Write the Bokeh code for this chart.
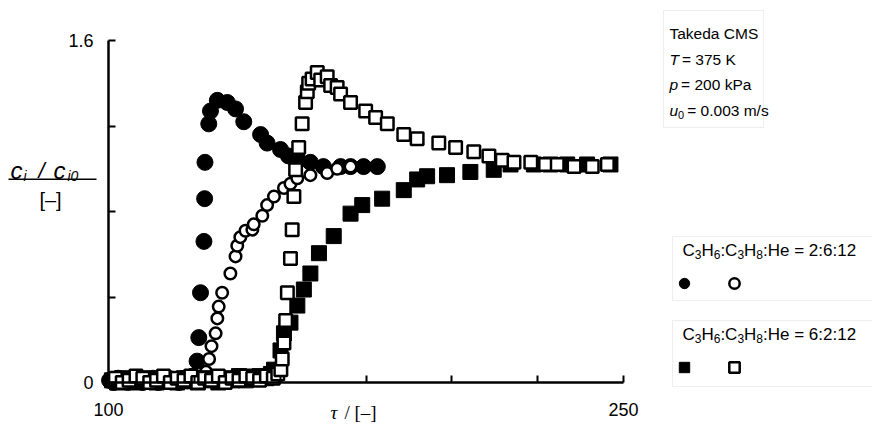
from bokeh.plotting import figure
from bokeh.models import (Range1d, FixedTicker, Label, BoxAnnotation, Legend,
                          LegendItem)
from bokeh.embed import file_html
from bokeh.resources import INLINE

# ---------------- data ----------------
# 2:6:12 feed  -> C3H6 (filled circles), C3H8 (open circles)
c3h6_a_tau = [100.3, 101.5, 102.8, 104, 105.5, 107, 108.5, 110, 111.5, 113,
              114.5, 116, 117.5, 119, 120.5, 122, 123.3, 124.5,
              125.8, 126.3, 126.8, 127.8, 128.0, 128.1, 129.2, 129.7, 131.7,
              134.6, 137.0, 139.4, 144.3, 146.2, 150.1, 152.4, 155.3, 158.8,
              162.6, 167.6, 170.5, 174.3, 178.3]
c3h6_a_c = [0.01, 0.0, 0.02, 0.01, 0.0, 0.01, 0.02, 0.0, 0.01, 0.02,
            0.0, 0.01, 0.02, 0.01, 0.0, 0.02, 0.01, 0.03,
            0.10, 0.21, 0.42, 0.66, 0.86, 1.03, 1.21, 1.27, 1.32,
            1.31, 1.28, 1.22, 1.16, 1.12, 1.09, 1.06, 1.04, 1.03,
            1.01, 1.01, 1.01, 1.01, 1.01]
c3h8_a_tau = [100.8, 102, 103.5, 105, 106.5, 108, 109.5, 111, 112.5, 114,
              115.5, 117, 118.5, 120, 121.5, 123, 124.5, 126, 127.3,
              128.4, 129.3, 130.0, 131.2, 131.7, 132.1, 133.1, 135.5, 137.0,
              137.5, 138.4, 139.9, 141.9, 142.3, 144.8, 146.2, 148.2, 151.1,
              153.0, 155.0, 158.8, 163.7, 166.6, 170.5]
c3h8_a_c = [0.01, 0.0, 0.01, 0.02, 0.01, 0.0, 0.01, 0.02, 0.0, 0.01,
            0.02, 0.01, 0.0, 0.02, 0.01, 0.0, 0.02, 0.01, 0.02,
            0.05, 0.11, 0.17, 0.23, 0.30, 0.355, 0.42, 0.51, 0.59,
            0.64, 0.68, 0.71, 0.715, 0.74, 0.78, 0.83, 0.87, 0.91,
            0.93, 0.955, 0.97, 0.98, 1.0, 1.01]

# 6:2:12 feed  -> C3H6 (filled squares), C3H8 (open squares)
c3h6_b_tau = [101, 102.5, 104, 106, 108, 110, 112, 114, 116, 118, 120, 122,
              124, 126, 128, 130, 132, 134, 136, 138, 140, 142, 144, 146,
              147.3, 148.2, 150.1, 151.1, 153.0, 155.0, 156.9, 158.8,
              161.3, 165.6, 170.5, 173.9, 179.7, 186.0, 189.9, 192.8, 198.6,
              205.4, 212.2, 217.1, 223.9, 228.7, 233.6, 239.4, 246.2]
c3h6_b_c = [0.01, 0.0, 0.02, 0.01, 0.0, 0.02, 0.01, 0.0, 0.02, 0.01, 0.0, 0.02,
            0.01, 0.0, 0.02, 0.01, 0.0, 0.02, 0.01, 0.03, 0.01, 0.02, 0.03, 0.02,
            0.04, 0.06, 0.15, 0.23, 0.28, 0.36, 0.435, 0.51,
            0.605, 0.685, 0.79, 0.83, 0.86, 0.90, 0.95, 0.965, 0.97,
            0.985, 0.995, 1.02, 1.02, 1.02, 1.02, 1.02, 1.02]
c3h8_b_tau = [102, 104, 106, 108, 110, 112, 114, 116, 118, 120, 122, 124,
              126, 128, 130, 132, 134, 136, 138, 140, 142, 144, 146, 148,
              149.3, 150.2, 150.6, 151.1, 151.6, 152.1, 153.0,
              153.5, 154.0, 154.5, 155.4, 156.4, 157.4, 157.9, 158.3, 159.3,
              160.8, 161.8, 163.7, 164.7, 166.6, 167.6, 170.5, 174.9, 177.8,
              181.2, 186.0, 189.9, 196.2, 201.1, 206.4, 210.8, 214.7, 218.1,
              223.0, 227.3, 230.7, 235.6, 240.9, 245.3]
c3h8_b_c = [0.02, 0.0, 0.01, 0.03, 0.02, 0.0, 0.01, 0.03, 0.0, 0.02, 0.01, 0.03,
            0.0, 0.02, 0.01, 0.03, 0.0, 0.02, 0.01, 0.03, 0.02, 0.01, 0.03, 0.02,
            0.04, 0.06, 0.11, 0.185, 0.29, 0.42, 0.58,
            0.715, 0.87, 0.995, 1.10, 1.21, 1.31, 1.36, 1.40, 1.42,
            1.45, 1.415, 1.43, 1.39, 1.38, 1.35, 1.31, 1.27, 1.24,
            1.21, 1.16, 1.14, 1.12, 1.10, 1.08, 1.06, 1.04, 1.03,
            1.03, 1.02, 1.02, 1.01, 1.01, 1.02]

x_major = [100, 250]
x_minor = [125, 150, 175, 200, 225]
y_major = [0, 1.6]
y_minor = [0.4, 0.8, 1.2]

# ---------------- layout ----------------
W, H = 872, 432
AX_X0, AX_X1 = 108, 623         # pixel of tau=100 and tau=250
AX_Y0, AX_Y1 = 382, 40          # pixel (from top) of c=0 and c=1.6
sx = (AX_X1 - AX_X0) / (x_major[1] - x_major[0])
sy = (AX_Y0 - AX_Y1) / (y_major[1] - y_major[0])

def px2x(px):
    return x_major[0] + (px - AX_X0) / sx

def px2y(py):
    return y_major[0] + (AX_Y0 - py) / sy

p = figure(width=W, height=H, output_backend="svg", toolbar_location=None,
           x_range=Range1d(px2x(0), px2x(W)),
           y_range=Range1d(px2y(H), px2y(0)),
           min_border=0)
p.outline_line_color = None
p.grid.visible = False
p.background_fill_color = "white"
p.border_fill_color = "white"

FONT = "Liberation Sans"
SERIF = "Liberation Serif"
xax, yax = p.xaxis[0], p.yaxis[0]
for ax in (xax, yax):
    ax.axis_line_width = 2.5
    ax.axis_line_color = "black"
    ax.major_tick_in = 7
    ax.major_tick_out = 0
    ax.minor_tick_in = 7
    ax.minor_tick_out = 0
    ax.major_tick_line_width = 2
    ax.minor_tick_line_width = 2
    ax.major_label_text_font = FONT
    ax.major_label_text_font_size = "18px"
    ax.major_label_text_color = "black"

xax.fixed_location = 0
xax.bounds = (x_major[0], x_major[1])
xax.ticker = FixedTicker(ticks=x_major, minor_ticks=x_minor)
xax.major_label_standoff = 20

yax.fixed_location = x_major[0]
yax.bounds = (y_major[0], y_major[1])
yax.ticker = FixedTicker(ticks=y_major, minor_ticks=y_minor)
yax.major_label_standoff = 15
yax.major_label_overrides = {0: "0", 1.6: "1.6"}

# ---------------- series ----------------
r_fc = p.scatter(c3h6_a_tau, c3h6_a_c, marker="circle", size=16,
                 fill_color="black", line_color="black")
r_oc = p.scatter(c3h8_a_tau, c3h8_a_c, marker="circle", size=11.5,
                 fill_color="white", line_color="black", line_width=2.5)
r_fs = p.scatter(c3h6_b_tau, c3h6_b_c, marker="square", size=15,
                 fill_color="black", line_color="black")
r_os = p.scatter(c3h8_b_tau, c3h8_b_c, marker="square", size=12.5,
                 fill_color="white", line_color="black", line_width=2.5)

# ---------------- texts ----------------
ARIAL_W = {"C": 722, "H": 722, "e": 556, ":": 278, " ": 278, "=": 584,
           "K": 667, "k": 500, "P": 667, "a": 556, "m": 833, "/": 278,
           "s": 500, ".": 278, "T": 611, "p": 556, "u": 556, "i": 222,
           "c": 500}

def text_w(t, size):
    return sum(ARIAL_W.get(ch, 556) for ch in t) * size / 1000.0

def lab(px, py, text, size=17, style="normal", font=FONT, align="left",
        baseline="alphabetic"):
    p.add_layout(Label(x=px2x(px), y=px2y(py), text=text,
                       text_font=font, text_font_size=f"{size}px",
                       text_font_style=style, text_color="black",
                       text_align=align, text_baseline=baseline))

def runs(px, py, parts, space=None):
    """parts: (text, size, style, dy) laid out left to right on baseline py"""
    x = px
    for text, size, style, dy in parts:
        sp = text_w(" ", size) if space is None else space
        lead = len(text) - len(text.lstrip(" "))
        body = text.strip(" ")
        inner = body.count(" ")
        if body:
            lab(x + sp * lead, py + dy, body, size, style)
        trail = len(text) - len(text.rstrip(" ")) if body else 0
        x += sp * lead + text_w(body.replace(" ", ""), size) + \
            text_w(" " * inner, size) + sp * trail
    return x

# y axis title  c_i / c_i0 over [-]
lab(10, 170, "c", 24, "italic")
lab(23, 175, "i", 14, "italic")
lab(38, 170, "/", 22, "italic")
lab(53, 170, "c", 24, "italic")
lab(67, 175, "i0", 14, "italic")
lab(50, 199, "[\u2013]", 20, baseline="middle", align="center")
p.add_layout(BoxAnnotation(left=px2x(8), right=px2x(96),
                           bottom=px2y(179.5), top=px2y(178),
                           fill_color="black", fill_alpha=1, line_color=None))

# x axis title
lab(330, 412, "\u03c4", 19, "italic", SERIF, baseline="middle")
lab(344, 412, "/ [\u2013]", 19, "normal", SERIF, baseline="middle")

# info box
DOT = dict(fill_alpha=0, line_color="#8a8a8a", line_width=1, line_dash="1 1")
p.add_layout(BoxAnnotation(left=px2x(663), right=px2x(763),
                           top=px2y(10), bottom=px2y(127), **DOT))
FS = 15.5
runs(669, 33, [("Takeda CMS", FS, "normal", 0)])
runs(669, 59, [("T", FS, "italic", 0), (" = 375 K", FS, "normal", 0)], space=3)
runs(669, 84, [("p", FS, "italic", 0), (" = 200 kPa", FS, "normal", 0)], space=3)
runs(669, 110, [("u", FS, "italic", 0), ("0", 11, "normal", 4),
                (" = 0.003 m/s", FS, "normal", 0)], space=3)

# feed legends
TS, SS, DY = 17, 12, 4
for (top, bot, ratio, rr) in [(236, 300, "2:6:12", (r_fc, r_oc)),
                              (320, 386, "6:2:12", (r_fs, r_os))]:
    p.add_layout(BoxAnnotation(left=px2x(672), right=px2x(W + 20),
                               top=px2y(top), bottom=px2y(bot), **DOT))
    runs(682, top + 14, [("C", TS, "normal", 0), ("3", SS, "normal", DY),
                         ("H", TS, "normal", 0), ("6", SS, "normal", DY),
                         (":C", TS, "normal", 0), ("3", SS, "normal", DY),
                         ("H", TS, "normal", 0), ("8", SS, "normal", DY),
                         (":He = " + ratio, TS, "normal", 0)])
    leg = Legend(items=[LegendItem(label=" ", renderers=[rr[0]]),
                        LegendItem(label=" ", renderers=[rr[1]])],
                 orientation="horizontal",
                 location=(670.5, H - (top + 47 + 12.5)),
                 glyph_width=26, glyph_height=26, label_standoff=0,
                 label_width=24, label_height=26, spacing=0, padding=0,
                 margin=0, border_line_color=None, background_fill_alpha=0,
                 label_text_font_size="10px")
    p.add_layout(leg)

open("out.html", "w").write(file_html(p, INLINE))
